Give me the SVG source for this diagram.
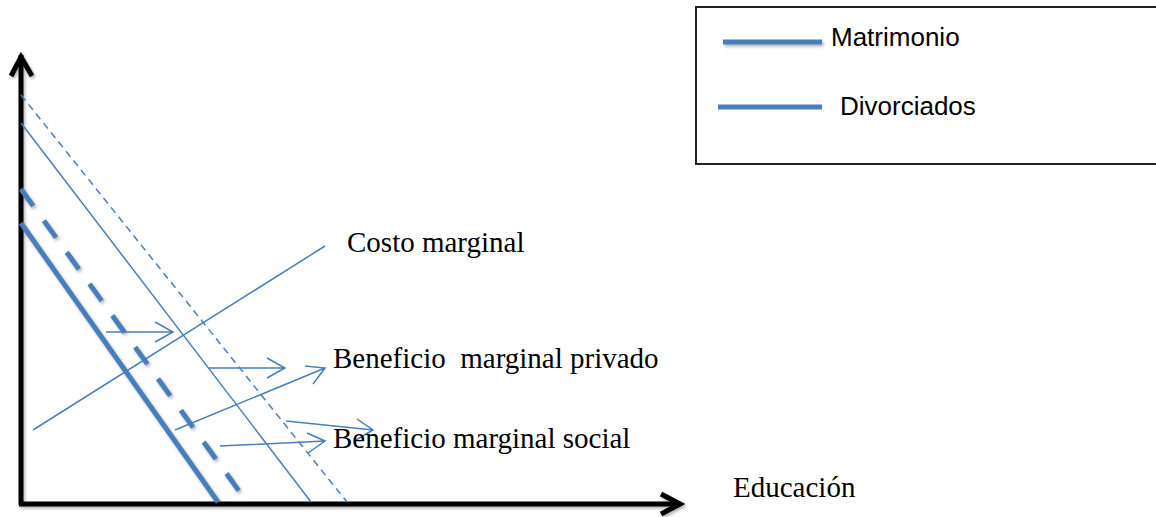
<svg xmlns="http://www.w3.org/2000/svg" width="1156" height="517" viewBox="0 0 1156 517">
<defs>
<style>
.blue{stroke:#4A7EBB;fill:none;stroke-linecap:butt}
.thin{stroke-width:1.5}
.thick{stroke-width:5}
.axis{stroke:#000;stroke-width:5;fill:none}
.lbl{font-family:"Liberation Serif","Times New Roman",serif;font-size:29px;fill:#000}
.leg{font-family:"Liberation Sans",Arial,sans-serif;font-size:26px;fill:#000}
</style>
<filter id="sh" filterUnits="userSpaceOnUse" x="0" y="0" width="1156" height="517">
<feDropShadow dx="1.5" dy="2" stdDeviation="1.5" flood-color="#000" flood-opacity="0.3"/>
</filter>
</defs>
<rect width="1156" height="517" fill="#fff"/>

<g id="legend">
<rect x="696" y="7" width="470" height="157" fill="#fff" stroke="#222" stroke-width="2"/>
<line x1="723" y1="42" x2="822" y2="42" class="blue" stroke-width="5" filter="url(#sh)"/>
<text x="831" y="46" class="leg">Matrimonio</text>
<line x1="718" y1="107" x2="822" y2="107" class="blue" stroke-width="5"/>
<text x="840" y="115" class="leg">Divorciados</text>
</g>

<g id="axes" filter="url(#sh)">
<path d="M21 505 V55" class="axis"/>
<path d="M11 76 L21 57 L32 76" class="axis" stroke-linejoin="miter"/>
<path d="M19 504 H680" class="axis"/>
<path d="M661 494 L680 504 L661 514" class="axis" stroke-linejoin="miter"/>
</g>

<g id="curves">
<line id="bmg-social-div" x1="21" y1="95" x2="347" y2="502" class="blue thin" stroke-dasharray="7 5"/>
<line id="bmg-privado-div" x1="21" y1="123" x2="311" y2="502" class="blue thin"/>
<line id="bmg-social-mat" x1="21" y1="189" x2="247" y2="502" class="blue thick" stroke-dasharray="21 18" filter="url(#sh)"/>
<line id="bmg-privado-mat" x1="21" y1="223" x2="218" y2="502" class="blue thick" filter="url(#sh)"/>
<line id="costo" x1="33" y1="430" x2="325" y2="246" class="blue thin"/>
</g>

<g id="connectors" class="blue" stroke-width="1.5" stroke-linejoin="miter">
<path d="M106 332 H173 M155 322 L173 332 L155 342"/>
<path d="M209 368 H285 M267 358 L285 368 L267 378"/>
<path d="M175 430 L325 368 M305 366 L325 368 L313 384"/>
<path d="M286 421 L373 430 M357 419 L373 430 L356 440"/>
<path d="M220 446 L325 441 M307 433 L325 441 L308 453"/>
</g>

<g id="labels">
<text x="347" y="252" class="lbl">Costo marginal</text>
<text x="333" y="368" class="lbl" xml:space="preserve">Beneficio  marginal privado</text>
<text x="333" y="448" class="lbl">Beneficio marginal social</text>
<text x="733" y="497" class="lbl">Educación</text>
</g>
</svg>
